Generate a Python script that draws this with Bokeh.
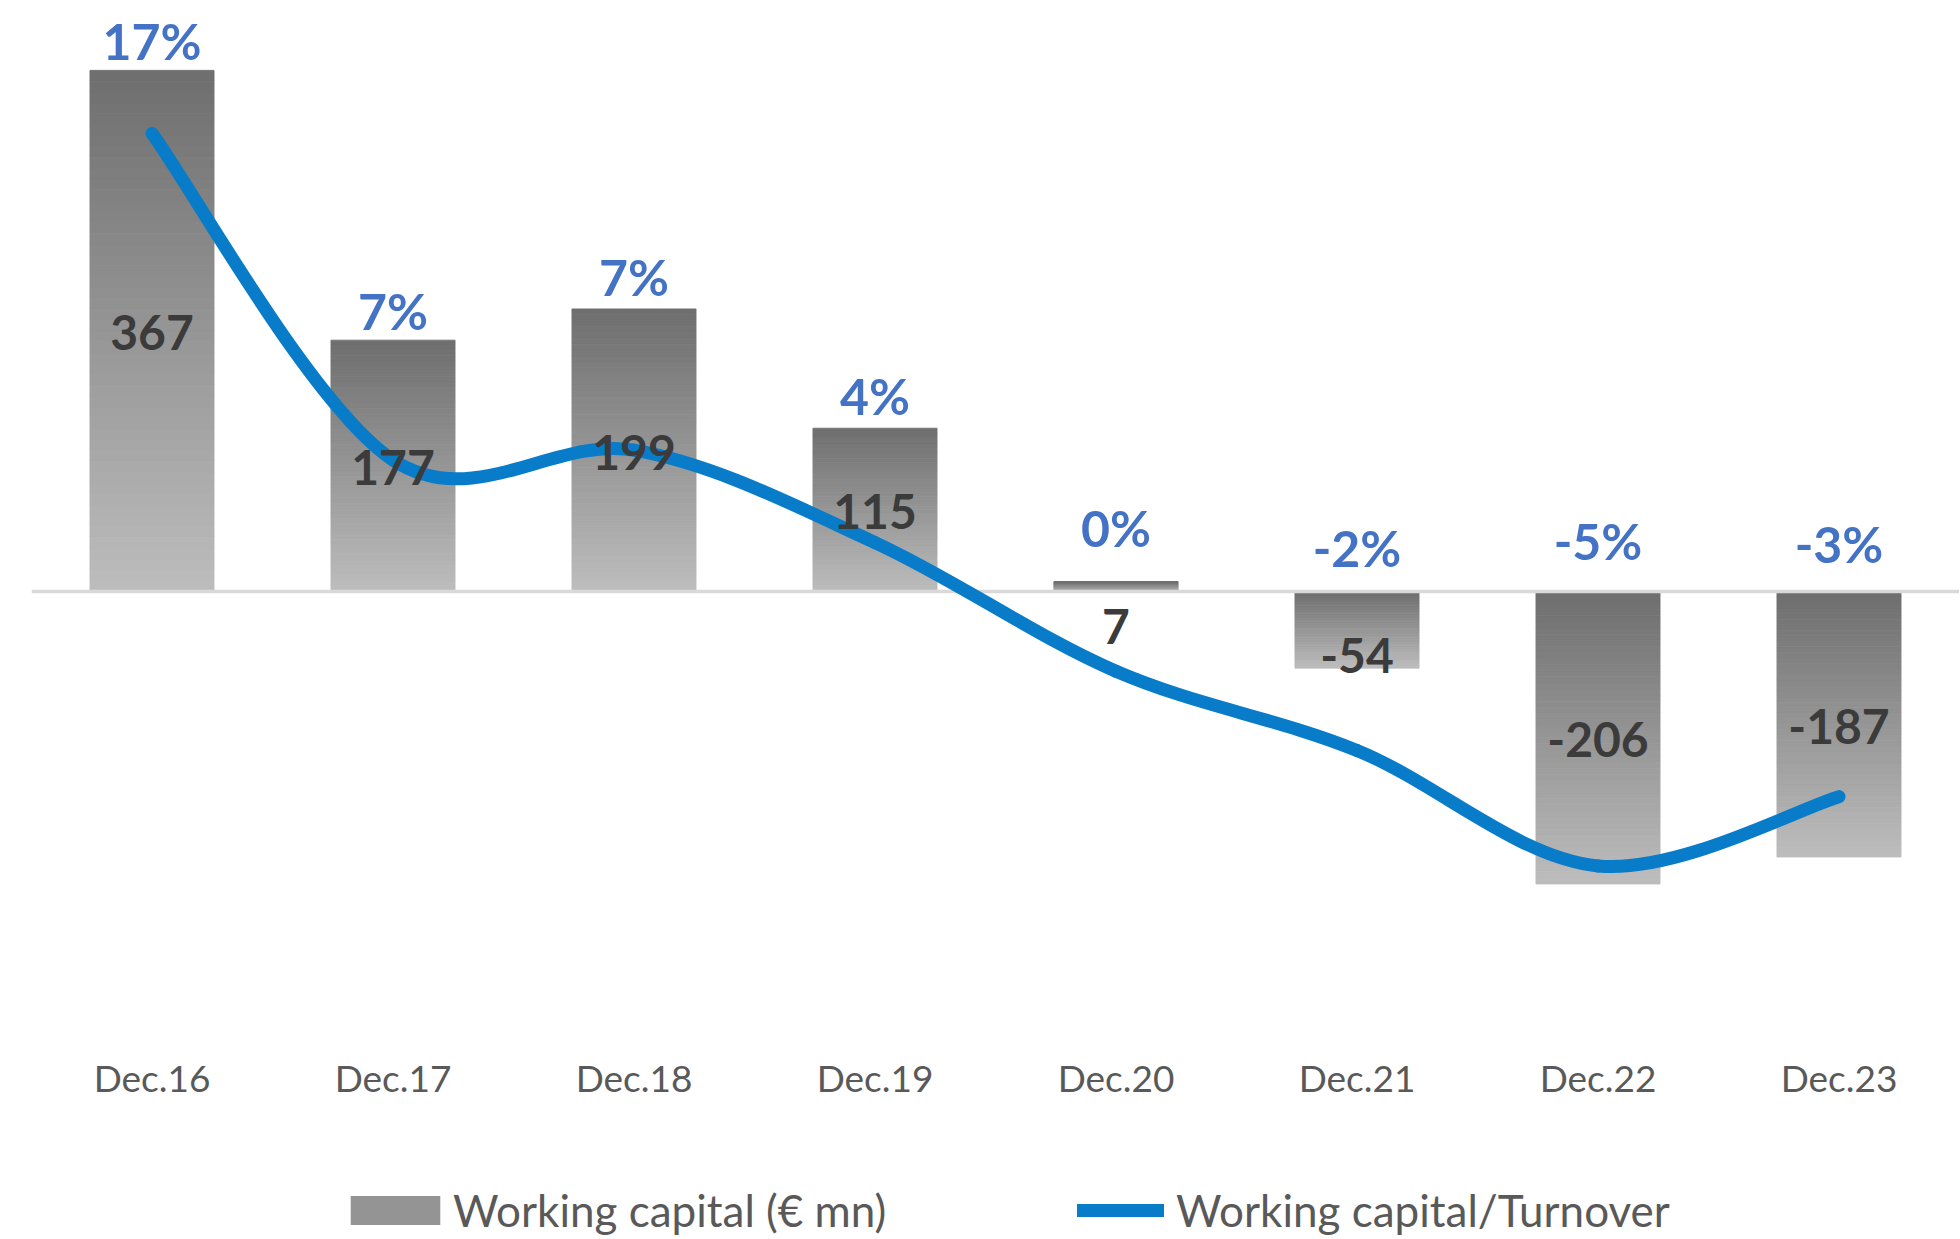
from bokeh.plotting import figure
from bokeh.layouts import column
from bokeh.models import Range1d, FactorRange, Legend, LegendItem
from bokeh.core.properties import value
from bokeh.embed import file_html
from bokeh.resources import INLINE

# ---------------- data ----------------
categories = ["Dec.16", "Dec.17", "Dec.18", "Dec.19", "Dec.20", "Dec.21", "Dec.22", "Dec.23"]
working_capital = [367, 177, 199, 115, 7, -54, -206, -187]          # EUR mn
wc_turnover_pct = [16.7, 6.8, 7.1, 4.3, 0.4, -2.0, -5.5, -3.4]      # %
pct_labels = ["17%", "7%", "7%", "4%", "0%", "-2%", "-5%", "-3%"]
value_labels = [str(v) for v in working_capital]
series_names = ["Working capital (€ mn)", "Working capital/Turnover"]

# ---------------- style ----------------
FONT = "Lato"
BAR_TOP = (0x6e, 0x6e, 0x6e)
BAR_BOTTOM = (0xbd, 0xbd, 0xbd)
LINE_BLUE = "#087cc9"
PCT_BLUE = "#4472c4"
VAL_COLOR = "#3b3b3b"
AXIS_TXT = "#595959"
BAR_W = 0.515
STRIPS = 48
pct_offsets = [-29, -29, -32, -32, -54, -43, -50, -47]   # px, label nudges
val_offsets = [2, 2, 2, 2, 40, 26, 2, 2]                  # px, label nudges

p = figure(x_range=FactorRange(*categories), y_range=Range1d(-316.2, 402.1),
           frame_width=1928, frame_height=1020, output_backend="svg",
           toolbar_location=None, y_axis_location=None)
p.min_border_left = 31
p.min_border_right = 0
p.min_border_top = 20
p.min_border_bottom = 0
p.outline_line_color = None
p.xgrid.visible = False
p.ygrid.visible = False
p.background_fill_color = "white"
p.border_fill_color = "white"
p.extra_y_ranges = {"pct": Range1d(-10.79, 20.12)}

# gradient bars built from horizontal strips of each bar
def mix(a, b, t):
    return "#%02x%02x%02x" % tuple(int(round(a[i] + (b[i] - a[i]) * t)) for i in range(3))

sx, sb, st, sc = [], [], [], []
for cat, v in zip(categories, working_capital):
    lo, hi = min(0, v), max(0, v)
    for k in range(STRIPS):
        sx.append(cat)
        sb.append(lo + (hi - lo) * k / STRIPS)
        st.append(lo + (hi - lo) * (k + 1) / STRIPS)
        sc.append(mix(BAR_TOP, BAR_BOTTOM, 1 - (k + 0.5) / STRIPS))
p.vbar(x=sx, bottom=sb, top=st, width=BAR_W, fill_color=sc, line_color=sc, line_width=0.8)

# zero line
p.hspan(y=[0], line_color="#d9d9d9", line_width=3.5)

# smoothed line (Catmull-Rom -> cubic Bezier segments)
n = len(categories)
px = [i + 0.5 for i in range(n)]
py = wc_turnover_pct
bx0, by0, bx1, by1, bcx0, bcy0, bcx1, bcy1 = [], [], [], [], [], [], [], []
for i in range(n - 1):
    im, ip = max(i - 1, 0), min(i + 2, n - 1)
    bx0.append(px[i]); by0.append(py[i])
    bx1.append(px[i + 1]); by1.append(py[i + 1])
    bcx0.append(px[i] + (px[i + 1] - px[im]) / 6.0)
    bcy0.append(py[i] + (py[i + 1] - py[im]) / 6.0)
    bcx1.append(px[i + 1] - (px[ip] - px[i]) / 6.0)
    bcy1.append(py[i + 1] - (py[ip] - py[i]) / 6.0)
p.bezier(x0=bx0, y0=by0, x1=bx1, y1=by1, cx0=bcx0, cy0=bcy0, cx1=bcx1, cy1=bcy1,
         line_color=LINE_BLUE, line_width=13, line_cap="round", y_range_name="pct")

# value labels
p.text(x=categories, y=[v / 2 for v in working_capital], text=value_labels,
       y_offset=val_offsets, text_align="center", text_baseline="middle",
       text_font=value(FONT), text_font_style="bold", text_font_size="48px",
       text_color=VAL_COLOR)

# percentage labels
p.text(x=categories, y=[max(v, 0) for v in working_capital], text=pct_labels,
       y_offset=pct_offsets, text_align="center", text_baseline="alphabetic",
       text_font=value(FONT), text_font_style="bold", text_font_size="50px",
       text_color=PCT_BLUE)

# axis
ax = p.xaxis[0]
ax.axis_line_color = None
ax.major_tick_line_color = None
ax.minor_tick_line_color = None
ax.major_label_text_font = FONT
ax.major_label_text_font_size = "37px"
ax.major_label_text_color = AXIS_TXT
ax.major_label_standoff = 8

# ---------------- legend strip (separate small figure) ----------------
lg = figure(width=1959, height=136, x_range=Range1d(0, 1), y_range=Range1d(0, 1),
            output_backend="svg", toolbar_location=None,
            x_axis_location=None, y_axis_location=None)
lg.min_border = 0
lg.outline_line_color = None
lg.xgrid.visible = False
lg.ygrid.visible = False
# proxy glyphs sit outside the visible range; only their legend swatches show
leg_bar = lg.vbar(x=[-5], top=[-5], bottom=[-6], width=0.1, fill_color="#949494", line_color=None)
leg_line = lg.line(x=[-6, -5], y=[-5, -5], line_color=LINE_BLUE, line_width=13, line_cap="round")

common = dict(orientation="horizontal", label_text_font=FONT, label_text_font_size="44px",
              label_text_color=AXIS_TXT, border_line_alpha=0, background_fill_alpha=0,
              padding=0, margin=0)
legend1 = Legend(items=[LegendItem(label=series_names[0], renderers=[leg_bar])],
                 location=(308, 2), glyph_width=112, glyph_height=36, label_standoff=2, **common)
legend2 = Legend(items=[LegendItem(label=series_names[1], renderers=[leg_line])],
                 location=(1046, 2), glyph_width=87, glyph_height=36, label_standoff=12, **common)
lg.add_layout(legend1)
lg.add_layout(legend2)

layout = column(p, lg, spacing=0)
open("out.html", "w").write(file_html(layout, INLINE))
